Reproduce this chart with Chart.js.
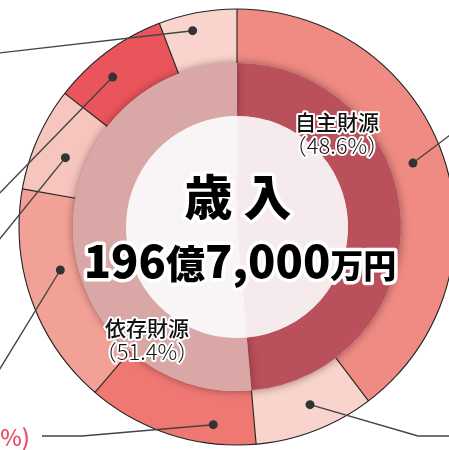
<!DOCTYPE html>
<html>
<head>
<meta charset="utf-8">
<script src="https://cdn.jsdelivr.net/npm/chart.js@4/dist/chart.umd.min.js"></script>
<style>
  html, body { margin: 0; padding: 0; background: #fff; overflow: hidden; }
  #wrap { position: absolute; left: 0; top: 0; width: 474px; height: 454px; }
</style>
</head>
<body>
<div id="wrap"><canvas id="revenue" width="474" height="454"></canvas></div>
<script>
// 歳入の内訳 (%)
const innerLabels = ["自主財源", "依存財源"];
const innerValues = [48.6, 51.4];

const outerValues = [39.7, 8.9, 12.7, 16.5, 7.7, 8.7, 5.8];
const outerColors = ["#ef8b82", "#f8d4cc", "#ef7873", "#f2a196", "#f6c5bd", "#e9555a", "#f8d4cc"];
const innerColors = ["#b9505b", "#d9a7a6"];
const centerColors = ["#f5ebed", "#f9f4f5"];

const totalTitle = "歳 入";
const totalParts = [["196", 45], ["億", 39], ["7,000", 45], ["万円", 33]];
const cutLabel = "(12.7%)";

const FONT = '"Noto Sans CJK JP", "Noto Sans", sans-serif';

// leader lines: position inside each outer slice, then path out of the frame
const leaders = [
  { f: 0.49, rf: 0.43, path: [[470, 120]] },
  { f: 0.46, rf: 0.52, path: [[418, 436], [470, 436]] },
  { f: 0.26, rf: 0.65, path: [[82, 436], [42, 436]] },
  { f: 0.60, rf: 0.33, path: [[-10, 385]] },
  { f: 0.43, rf: 0.39, path: [[-10, 251]] },
  { f: 0.40, rf: 0.57, path: [[-10, 203]] },
  { f: 0.39, rf: 0.69, path: [[-10, 54]] }
];

function outlined(ctx, text, x, y, w) {
  ctx.lineWidth = w;
  ctx.strokeStyle = "#fff";
  ctx.lineJoin = "round";
  ctx.strokeText(text, x, y);
  ctx.fillText(text, x, y);
}

const ringPlugin = {
  id: "ringStyle",
  beforeDatasetDraw(chart, args) {
    if (args.index === 1) {
      chart.ctx.save();
      chart.ctx.shadowColor = "rgba(70,20,25,0.5)";
      chart.ctx.shadowBlur = 8;
    }
  },
  afterDatasetDraw(chart, args) {
    const ctx = chart.ctx;
    if (args.index === 1) ctx.restore();
    if (args.index === 0) {
      // separators + outer outline (no line on the inner edge)
      const arcs = args.meta.data;
      ctx.save();
      ctx.strokeStyle = "#222";
      ctx.lineWidth = 1.1;
      arcs.forEach(a => {
        const p = a.getProps(["x", "y", "startAngle", "innerRadius", "outerRadius"], true);
        ctx.beginPath();
        ctx.moveTo(p.x + p.innerRadius * Math.cos(p.startAngle), p.y + p.innerRadius * Math.sin(p.startAngle));
        ctx.lineTo(p.x + p.outerRadius * Math.cos(p.startAngle), p.y + p.outerRadius * Math.sin(p.startAngle));
        ctx.stroke();
      });
      const p0 = arcs[0].getProps(["x", "y", "outerRadius"], true);
      ctx.beginPath();
      ctx.arc(p0.x, p0.y, p0.outerRadius, 0, Math.PI * 2);
      ctx.stroke();
      ctx.restore();
    }
  }
};

const annotate = {
  id: "annotate",
  afterDraw(chart) {
    const ctx = chart.ctx;
    const arcs = chart.getDatasetMeta(0).data;

    // leaders
    ctx.save();
    ctx.strokeStyle = "#444";
    ctx.fillStyle = "#333";
    ctx.lineWidth = 1.4;
    leaders.forEach((l, i) => {
      const a = arcs[i];
      const p = a.getProps(["x", "y", "startAngle", "endAngle", "innerRadius", "outerRadius"], true);
      const ang = p.startAngle + l.f * (p.endAngle - p.startAngle);
      const r = p.innerRadius + l.rf * (p.outerRadius - p.innerRadius);
      const px = p.x + r * Math.cos(ang);
      const py = p.y + r * Math.sin(ang);
      ctx.beginPath();
      ctx.moveTo(px, py);
      l.path.forEach(pt => ctx.lineTo(pt[0], pt[1]));
      ctx.stroke();
      ctx.beginPath();
      ctx.arc(px, py, 4.5, 0, Math.PI * 2);
      ctx.fill();
    });

    // cut off label at the bottom left
    ctx.fillStyle = "#e6506a";
    ctx.font = "500 23px " + FONT;
    ctx.textAlign = "right";
    ctx.textBaseline = "middle";
    ctx.fillText(cutLabel, 30, 437);

    // ring labels
    ctx.textAlign = "center";
    ctx.fillStyle = "#111";
    const spots = [[337, 122], [147, 328]];
    innerLabels.forEach((lab, i) => {
      ctx.font = "500 21px " + FONT;
      outlined(ctx, lab, spots[i][0], spots[i][1], 4);
      ctx.font = "300 22px " + FONT;
      outlined(ctx, "（" + innerValues[i].toFixed(1) + "%）", spots[i][0], spots[i][1] + 24, 4);
    });

    // center total
    const cx = 238;
    ctx.fillStyle = "#000";
    ctx.font = "900 48px " + FONT;
    outlined(ctx, totalTitle, cx, 197, 7);

    ctx.textAlign = "left";
    ctx.textBaseline = "alphabetic";
    let total = 0;
    totalParts.forEach(pt => {
      ctx.font = "900 " + pt[1] + "px " + FONT;
      total += ctx.measureText(pt[0]).width;
    });
    let x = 240 - total / 2;
    totalParts.forEach(pt => {
      ctx.font = "900 " + pt[1] + "px " + FONT;
      outlined(ctx, pt[0], x, 278, 7);
      x += ctx.measureText(pt[0]).width;
    });
    ctx.restore();
  }
};

const ctx = document.getElementById("revenue");

const myChart = new Chart(ctx, {
  type: "doughnut",
  plugins: [ringPlugin, annotate],
  data: {
    datasets: [
      {
        data: outerValues,
        backgroundColor: outerColors,
        borderWidth: 0,
        weight: 54,
        order: 2
      },
      {
        data: innerValues,
        backgroundColor: innerColors,
        borderWidth: 0,
        weight: 53,
        order: 1
      },
      {
        data: innerValues,
        backgroundColor: centerColors,
        borderWidth: 0,
        weight: 111,
        order: 0
      }
    ]
  },
  options: {
    responsive: false,
    animation: false,
    cutout: 0,
    layout: { padding: 9 },
    plugins: {
      legend: { display: false },
      tooltip: { enabled: false }
    }
  }
});
</script>
</body>
</html>
